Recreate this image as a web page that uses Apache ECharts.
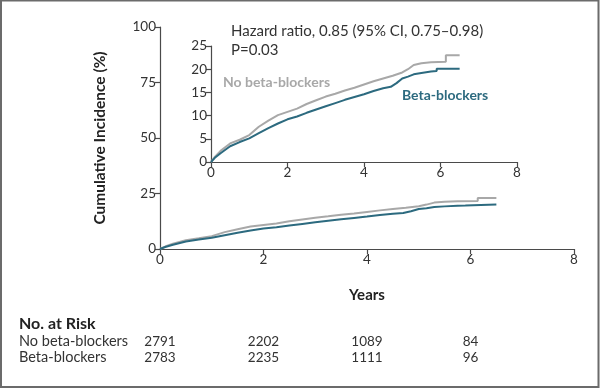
<!DOCTYPE html>
<html><head><meta charset="utf-8">
<script src="https://cdn.jsdelivr.net/npm/echarts@6/dist/echarts.min.js"></script>
<style>html,body{margin:0;padding:0;background:#fff}#c{width:600px;height:388px}</style>
</head><body><div id="c"></div>
<script>
// Data
const timesNoBB = [0,0.1,0.25,0.5,0.75,1,1.25,1.5,1.75,2,2.25,2.5,2.75,3,3.25,3.5,3.75,4,4.25,4.5,4.75,5,5.15,5.3,5.5,5.75,6.14,6.14,6.5];
const incNoBB   = [0,1.1,2.4,4.0,4.8,5.8,7.6,8.9,10.1,10.8,11.5,12.5,13.3,14.1,14.7,15.4,16.0,16.7,17.4,18.0,18.6,19.3,20.0,20.9,21.3,21.5,21.6,23.0,23.0];
const timesBB   = [0,0.1,0.25,0.5,0.75,1,1.25,1.5,1.75,2,2.25,2.5,2.75,3,3.25,3.5,3.75,4,4.25,4.5,4.7,4.85,5,5.15,5.3,5.5,5.75,5.9,5.9,6.5];
const incBB     = [0,0.9,1.9,3.4,4.3,5.1,6.2,7.3,8.3,9.2,9.8,10.6,11.3,12.0,12.7,13.4,14.0,14.6,15.3,15.9,16.2,17.0,18.0,18.4,18.9,19.2,19.5,19.6,20.1,20.1];
const riskTimes = [0,2,4,6];
const riskNoBB  = [2791,2202,1089,84];
const riskBB    = [2783,2235,1111,96];
const groupNames = ['No beta-blockers','Beta-blockers'];

const GREY='#a8a8a8', TEAL='#2c6a7f', AX='#4a4a4a', TXT='#333333';
const FONT='Lato';
const pairs=(t,v)=>t.map((x,i)=>[x,v[i]]);

function axisCommon(){
  return {
    axisLine:{show:true,lineStyle:{color:AX,width:1.2}},
    axisTick:{show:true,length:5,lineStyle:{color:AX,width:1.2}},
    axisLabel:{color:TXT,fontFamily:FONT,fontSize:13.5,margin:4},
    splitLine:{show:false}
  };
}
const chart = echarts.init(document.getElementById('c'),null,{renderer:'canvas'});
const option = {
  animation:false,
  backgroundColor:'#fff',
  grid:[
    {left:160,top:27,width:414,height:222},
    {left:211,top:46,width:306,height:116}
  ],
  xAxis:[
    Object.assign(axisCommon(),{type:'value',gridIndex:0,min:0,max:8,interval:2,
      name:'Years',nameLocation:'middle',nameGap:39,
      nameTextStyle:{color:'#222',fontFamily:FONT,fontSize:15,fontWeight:'bold'}}),
    Object.assign(axisCommon(),{type:'value',gridIndex:1,min:0,max:8,interval:2})
  ],
  yAxis:[
    Object.assign(axisCommon(),{type:'value',gridIndex:0,min:0,max:100,interval:25,
      name:'Cumulative Incidence (%)',nameLocation:'middle',nameGap:52,
      nameTextStyle:{color:'#222',fontFamily:FONT,fontSize:15.5,fontWeight:'bold'}}),
    Object.assign(axisCommon(),{type:'value',gridIndex:1,min:0,max:25,interval:5})
  ],
  series:[
    {type:'line',xAxisIndex:0,yAxisIndex:0,data:pairs(timesNoBB,incNoBB),showSymbol:false,lineStyle:{color:GREY,width:2},z:2},
    {type:'line',xAxisIndex:0,yAxisIndex:0,data:pairs(timesBB,incBB),showSymbol:false,lineStyle:{color:TEAL,width:2},z:3},
    {type:'line',xAxisIndex:1,yAxisIndex:1,data:pairs(timesNoBB,incNoBB),showSymbol:false,lineStyle:{color:GREY,width:2},z:2},
    {type:'line',xAxisIndex:1,yAxisIndex:1,data:pairs(timesBB,incBB),showSymbol:false,lineStyle:{color:TEAL,width:2},z:3}
  ]
};
chart.setOption(option);

const g=[];
g.push({type:'rect',shape:{x:1,y:0.5,width:597.5,height:386.5},style:{fill:'none',stroke:'#6b6b6b',lineWidth:2},silent:true});
g.push({type:'text',left:231,top:24,style:{text:'Hazard ratio, 0.85 (95% CI, 0.75\u20130.98)',fill:TXT,font:'15px '+FONT}});
g.push({type:'text',left:231,top:43,style:{text:'P=0.03',fill:TXT,font:'15px '+FONT}});
g.push({type:'text',left:223,top:75,style:{text:groupNames[0],fill:GREY,font:'bold 14px '+FONT}});
g.push({type:'text',left:402,top:88,style:{text:groupNames[1],fill:TEAL,font:'bold 14px '+FONT}});
g.push({type:'text',left:19,top:316,style:{text:'No. at Risk',fill:'#222',font:'bold 16px '+FONT}});
g.push({type:'text',left:19,top:334,style:{text:groupNames[0],fill:TXT,font:'14.5px '+FONT}});
g.push({type:'text',left:19,top:350,style:{text:groupNames[1],fill:TXT,font:'14.5px '+FONT}});
riskTimes.forEach((t,i)=>{
  const x=chart.convertToPixel({xAxisIndex:0,yAxisIndex:0},[t,0])[0];
  g.push({type:'text',x:x,y:342,style:{text:String(riskNoBB[i]),fill:TXT,font:'13.5px '+FONT,textAlign:'center',textVerticalAlign:'middle'}});
  g.push({type:'text',x:x,y:358,style:{text:String(riskBB[i]),fill:TXT,font:'13.5px '+FONT,textAlign:'center',textVerticalAlign:'middle'}});
});
chart.setOption({graphic:g});
</script></body></html>
